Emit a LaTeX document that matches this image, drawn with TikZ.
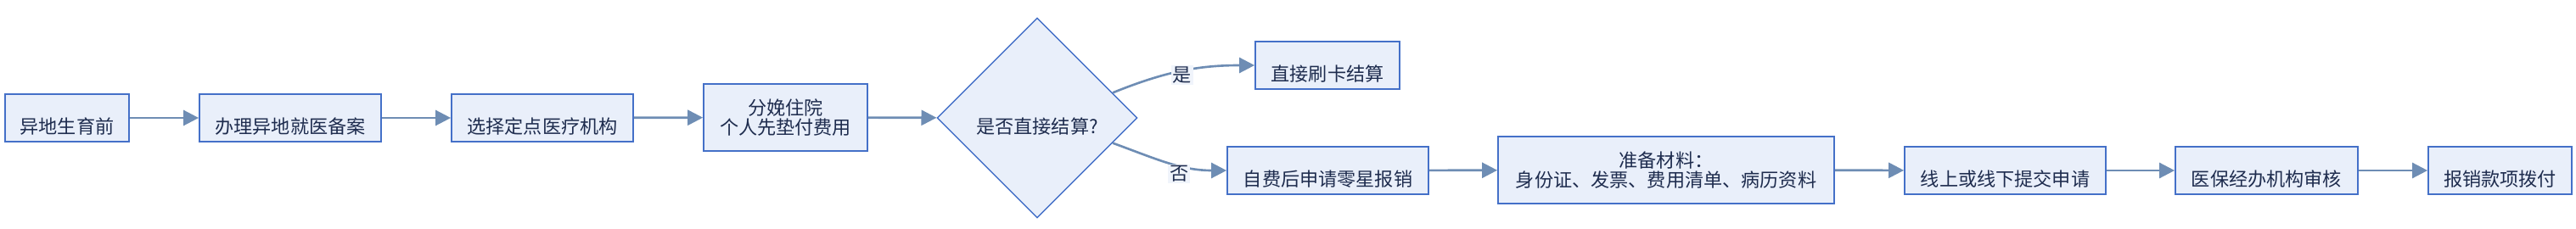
\documentclass[tikz,border=0pt]{standalone}
\usepackage{fontspec}
\setmainfont{Noto Sans CJK SC}
\usepackage{tikz}
\usetikzlibrary{shapes.geometric, arrows.meta, positioning, calc}
\definecolor{myblue}{RGB}{68,112,200}
\definecolor{myfill}{RGB}{233,239,250}
\definecolor{mylabel}{RGB}{240,244,251}
\definecolor{myarrow}{RGB}{110,141,180}
\definecolor{mytext}{RGB}{30,44,78}
\newcommand{\boxfont}{\fontsize{12.6pt}{13.3pt}\selectfont}
\tikzset{
  procbox/.style={rectangle, draw=myblue, fill=myfill,
    minimum height=1.12cm, inner sep=0pt, font=\boxfont, text=mytext,
    text height=0.73cm, text depth=0pt, line width=1pt},
  twobox/.style={rectangle, draw=myblue, fill=myfill,
    minimum height=1.58cm, inner sep=0pt, align=center,
    font=\boxfont, text=mytext, line width=1pt},
  decision/.style={diamond, draw=myblue, fill=myfill,
    minimum width=4.72cm, minimum height=4.72cm, inner sep=0pt,
    font=\boxfont, text=mytext, text height=0.73cm, text depth=0pt,
    line width=0.8pt},
  flowarrow/.style={-{Triangle[length=0.36cm, width=0.36cm]},
    line width=1.5pt, color=myarrow},
  branchlabel/.style={fill=mylabel, inner sep=1pt, font=\boxfont, text=mytext}
}
\begin{document}
\begin{tikzpicture}
  \useasboundingbox (0,0) rectangle (60.7,5.4);
  % Main row before the decision
  \node[procbox, minimum width=2.92cm] (prenatal) at (1.58,2.62) {异地生育前};
  \node[procbox, minimum width=4.28cm] (filing) at (6.84,2.62) {办理异地就医备案};
  \node[procbox, minimum width=4.28cm] (hospital) at (12.78,2.62) {选择定点医疗机构};
  \node[twobox, minimum width=3.86cm] (delivery) at (18.51,2.63) {分娩住院\\个人先垫付费用};
  \node[decision] (settle) at (24.44,2.62) {是否直接结算?};

  % Branches
  \node[procbox, minimum width=3.4cm] (direct) at (31.28,3.86) {直接刷卡结算};
  \node[procbox, minimum width=4.74cm] (selfpay) at (31.29,1.38) {自费后申请零星报销};

  % Reimbursement row
  \node[twobox, minimum width=7.92cm] (papers) at (39.26,1.39) {准备材料：\\身份证、发票、费用清单、病历资料};
  \node[procbox, minimum width=4.74cm] (submit) at (47.25,1.38) {线上或线下提交申请};
  \node[procbox, minimum width=4.3cm] (audit) at (53.41,1.38) {医保经办机构审核};
  \node[procbox, minimum width=3.38cm] (payout) at (58.91,1.38) {报销款项拨付};

  % Arrows
  \draw[flowarrow] (prenatal) -- (filing);
  \draw[flowarrow] (filing) -- (hospital);
  \draw[flowarrow] (hospital) -- (delivery);
  \draw[flowarrow] (delivery) -- (settle);
  \draw[flowarrow] ($(settle.east)!0.25!(settle.north)$) to[out=22, in=180]
    node[branchlabel, pos=0.5, yshift=-0.1cm] {是} (direct.west);
  \draw[flowarrow] ($(settle.east)!0.25!(settle.south)$) to[out=-20, in=180]
    node[branchlabel, pos=0.6, anchor=north, yshift=0.05cm] {否} (selfpay.west);
  \draw[flowarrow] (selfpay) -- (papers);
  \draw[flowarrow] (papers) -- (submit);
  \draw[flowarrow] (submit) -- (audit);
  \draw[flowarrow] (audit) -- (payout);
\end{tikzpicture}
\end{document}
